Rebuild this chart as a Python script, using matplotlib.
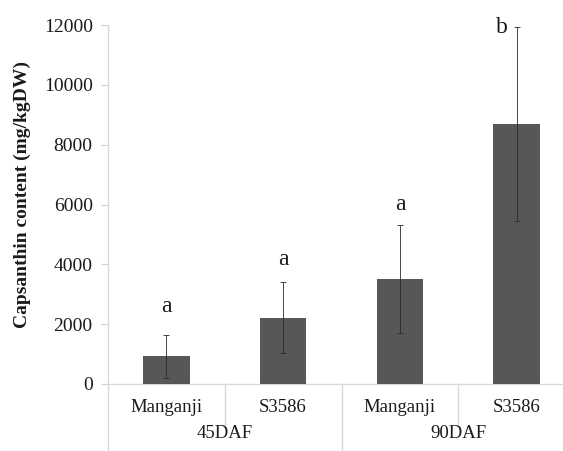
import matplotlib
matplotlib.use("Agg")
import matplotlib.pyplot as plt
from matplotlib.lines import Line2D

categories = ["Manganji", "S3586", "Manganji", "S3586"]
groups = ["45DAF", "90DAF"]
values = [920, 2210, 3500, 8690]
errors = [715, 1190, 1810, 3250]
letters = ["a", "a", "a", "b"]
yticks = [0, 2000, 4000, 6000, 8000, 10000, 12000]

plt.rcParams['font.family'] = ['Liberation Serif', 'DejaVu Serif']

W, H = 563, 451
fig = plt.figure(figsize=(W / 100, H / 100), dpi=100)
left_px, right_px, top_px, bot_px = 108, 575, 25, 384
ax = fig.add_axes([left_px / W, 1 - bot_px / H, (right_px - left_px) / W, (bot_px - top_px) / H])

x = list(range(len(categories)))
ax.bar(x, values, width=0.4, color="#575757", zorder=2)
ax.errorbar(x, values, yerr=errors, fmt="none", ecolor="#2a2a2a", elinewidth=0.6,
            capsize=2, capthick=0.6, zorder=3)

ax.set_xlim(-0.5, 3.5)
ax.set_ylim(0, 12000)
for s in ax.spines.values():
    s.set_visible(False)
ax.set_xticks([])
ax.set_yticks(yticks)
ax.set_yticklabels([str(t) for t in yticks], fontsize=14, color="#1a1a1a")
ax.tick_params(axis="y", length=5, width=0.8, color="#d0d0d0", pad=6)

fig.text(22 / W, 1 - 194 / H, "Capsanthin content (mg/kgDW)", rotation=90,
         ha="center", va="center", fontsize=14, fontweight="bold", color="#1a1a1a")

gray = "#d9d9d9"
axh = bot_px - top_px
ax.add_line(Line2D([-0.5, 3.5], [0, 0], color=gray, lw=1.0, clip_on=False, zorder=1))
tr = ax.get_xaxis_transform()
ax.add_line(Line2D([-0.5, -0.5], [1.0, -(H - bot_px) / axh], transform=tr, color=gray, lw=1.0, clip_on=False))
ax.add_line(Line2D([1.5, 1.5], [0, -(H - bot_px) / axh], transform=tr, color=gray, lw=1.0, clip_on=False))
for xd in [0.5, 2.5]:
    ax.add_line(Line2D([xd, xd], [0, -(425 - bot_px) / axh], transform=tr, color=gray, lw=1.0, clip_on=False))

for xi, c in zip(x, categories):
    ax.text(xi, -(408 - bot_px) / axh, c, transform=tr, ha="center", va="center", fontsize=13.5, color="#1a1a1a")
for gi, g in enumerate(groups):
    ax.text(gi * 2 + 0.5, -(433 - bot_px) / axh, g, transform=tr, ha="center", va="center", fontsize=13.5, color="#1a1a1a")

pads = [950, 760, 680]
for i, (v, e, l) in enumerate(zip(values, errors, letters)):
    if i < 3:
        ax.text(i, v + e + pads[i], l, ha="center", va="center", fontsize=17, color="#1a1a1a")
    else:
        ax.text(i - 0.125, v + e - 30, l, ha="center", va="center", fontsize=17, color="#1a1a1a")

fig.savefig("out.png", dpi=100)
